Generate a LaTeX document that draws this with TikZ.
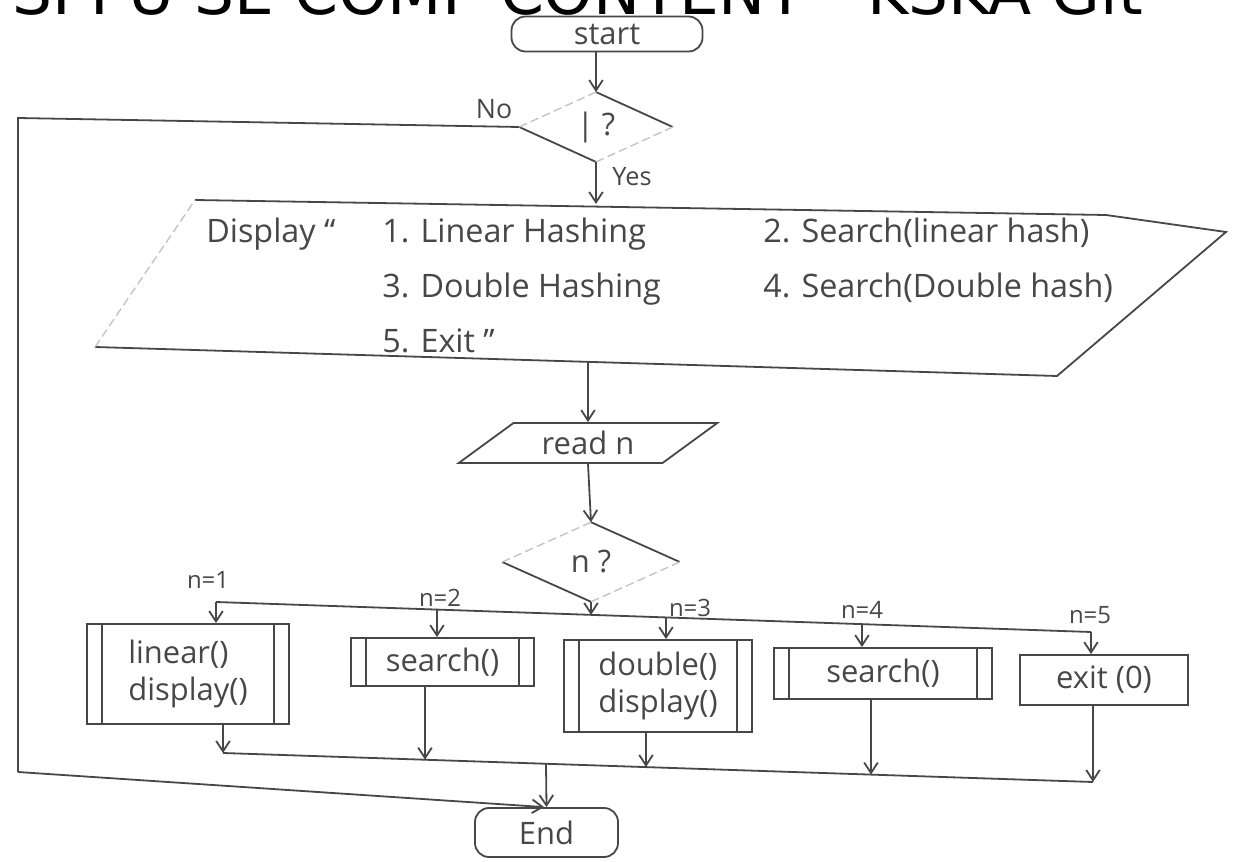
\documentclass[tikz,border=0pt]{standalone}
\usepackage{fontspec}
\usepackage{xcolor}
\usepackage{tikz}
\usetikzlibrary{positioning, arrows.meta, calc, shapes.geometric}
\setmainfont{DejaVu Sans}
\newfontfamily\handfont{Open Sans}
\definecolor{pencil}{HTML}{474747}
\definecolor{pencilfaint}{HTML}{C4C4C4}

\tikzset{
  pline/.style={draw=pencil, line width=0.45mm},
  arr/.style={pline, -{Straight Barb[length=2.6mm, width=3.4mm]}},
  faint/.style={draw=pencilfaint, line width=0.35mm, dash pattern=on 6pt off 3pt},
  hand/.style={text=pencil, font=\handfont\fontsize{22}{26}\selectfont},
  lbl/.style={text=pencil, font=\handfont\fontsize{17}{20}\selectfont, inner sep=0pt},
  term/.style={pline, hand, rectangle, rounded corners=3.5mm, inner sep=0pt},
  procbox/.style={pline, hand, rectangle, inner sep=0pt, align=left},
  subproc/.style={procbox, path picture={
      \draw[pline] ([xshift=3.75mm]path picture bounding box.north west) -- ([xshift=3.75mm]path picture bounding box.south west);
      \draw[pline] ([xshift=-3.75mm]path picture bounding box.north east) -- ([xshift=-3.75mm]path picture bounding box.south east);}},
  decide/.style={hand, diamond, inner sep=0pt},
  inputbox/.style={pline, hand, trapezium, trapezium left angle=35, trapezium right angle=145,
      trapezium stretches=true, inner sep=0pt},
}

\begin{document}
\begin{tikzpicture}[x=0.25mm, y=-0.25mm]
  \useasboundingbox (0,0) rectangle (1237,862);
  \clip (0,0) rectangle (1237,862);

  % header, cut at the top
  \node[anchor=base west, inner sep=0pt, font=\fontsize{44.8}{50}\selectfont] (title) at (12,15) {SPPU SE COMP CONTENT - KSKA Git};

  \node[term, minimum width=47.75mm, minimum height=8.75mm] (start) at (607,34) {start};

  % first test, only two sides drawn
  \node[decide, minimum width=38.25mm, minimum height=16.75mm] (q) at (596,127) {| ?};
  \draw[pline] (q.north) -- (q.east);
  \draw[pline] (q.west) -- (q.south);
  \draw[faint] (q.west) -- (q.north);
  \draw[faint] (q.east) -- (q.south);
  \draw[arr] (start.south -| q.north) -- (q.north);
  \node[lbl, font=\handfont\fontsize{19}{22}\selectfont] (no) at (494,109) {No};
  \node[lbl, font=\handfont\fontsize{18}{22}\selectfont] (yes) at (632,177) {Yes};

  % menu
  \coordinate (m1) at (195,200);
  \coordinate (m1b) at (1106,215);
  \coordinate (m2) at (1226,232);
  \coordinate (m3) at (1057,376);
  \coordinate (m4) at (95,347);
  \draw[pline] (m1) -- (m1b) -- (m2) -- (m3) -- (m4);
  \draw[faint] (m4) -- (m1);
  \coordinate (menuin) at (596,204);
  \coordinate (menuout) at (588,362);
  \draw[arr] (q.south) -- (menuin);
  \node[hand, font=\handfont\fontsize{23}{39}\selectfont, anchor=north west, inner sep=0pt] (menu) at (206,204) {%
    \begin{tabular}{@{}p{44mm}@{}p{95.25mm}@{}l@{}}
      Display “ & 1. Linear Hashing & 2. Search(linear hash)\\
                & 3. Double Hashing & 4. Search(Double hash)\\
                & 5. Exit ”         & \\
    \end{tabular}};

  \node[inputbox, minimum width=64.75mm, minimum height=10mm] (readn) at (588,443) {read n};
  \draw[arr] (menuout) -- (readn.north);

  \node[decide, minimum width=44.25mm, minimum height=19.75mm] (ndec) at (591,562) {n ?};
  \draw[pline] (ndec.north) -- (ndec.east);
  \draw[pline] (ndec.west) -- (ndec.south);
  \draw[faint] (ndec.west) -- (ndec.north);
  \draw[faint] (ndec.east) -- (ndec.south);
  \draw[arr] (readn.south) -- (ndec.north);

  % cases
  \node[subproc, minimum width=50.5mm, minimum height=25mm] (box1) at (188,674) {linear()\\display()};
  \node[subproc, minimum width=45.75mm, minimum height=12mm] (box2) at (442.5,662) {search()};
  \node[subproc, minimum width=47mm, minimum height=23mm] (box3) at (658,686) {double()\\display()};
  \node[subproc, minimum width=54.5mm, minimum height=12.75mm] (box4) at (883,673.5) {search()};
  \node[procbox, minimum width=42mm, minimum height=12.5mm] (box5) at (1104,680) {exit (0)};

  \coordinate (b1) at (216,602);
  \coordinate (b2) at (437,609.6);
  \coordinate (bc) at (591,615);
  \coordinate (b3) at (666,617.4);
  \coordinate (b4) at (862,624.1);
  \coordinate (b5) at (1091,632);
  \draw[pline] (b1) -- (b5);
  \draw[arr] (ndec.south) -- (bc);
  \foreach \src/\dst in {b1/box1, b2/box2, b3/box3, b4/box4, b5/box5}
    \draw[arr] (\src) -- (\src |- \dst.north);

  \node[lbl] (n1) at (208,580) {n=1};
  \node[lbl] (n2) at (440,598) {n=2};
  \node[lbl] (n3) at (690,608) {n=3};
  \node[lbl] (n4) at (862,610) {n=4};
  \node[lbl] (n5) at (1090,615) {n=5};

  % join
  \node[term, minimum width=35.75mm, minimum height=12.25mm] (endn) at (546.5,832.5) {End};
  \coordinate (c1) at (223,753);
  \coordinate (c2) at (425,759.7);
  \coordinate (cm) at (546,763.8);
  \coordinate (c3) at (646,767);
  \coordinate (c4) at (871,774.6);
  \coordinate (c5) at (1093,782);
  \draw[pline] (c1) -- (c5);
  \foreach \src/\dst in {box1/c1, box2/c2, box3/c3, box4/c4, box5/c5}
    \draw[arr] (\src.south -| \dst) -- (\dst);
  \draw[arr] (cm) -- (endn.north);

  % no branch
  \coordinate (ltop) at (18,118);
  \coordinate (lbot) at (18,772);
  \draw[pline] (q.west) -- (ltop) -- (lbot);
  \draw[arr] (lbot) -- ([xshift=-0.6mm]endn.north);
\end{tikzpicture}
\end{document}
